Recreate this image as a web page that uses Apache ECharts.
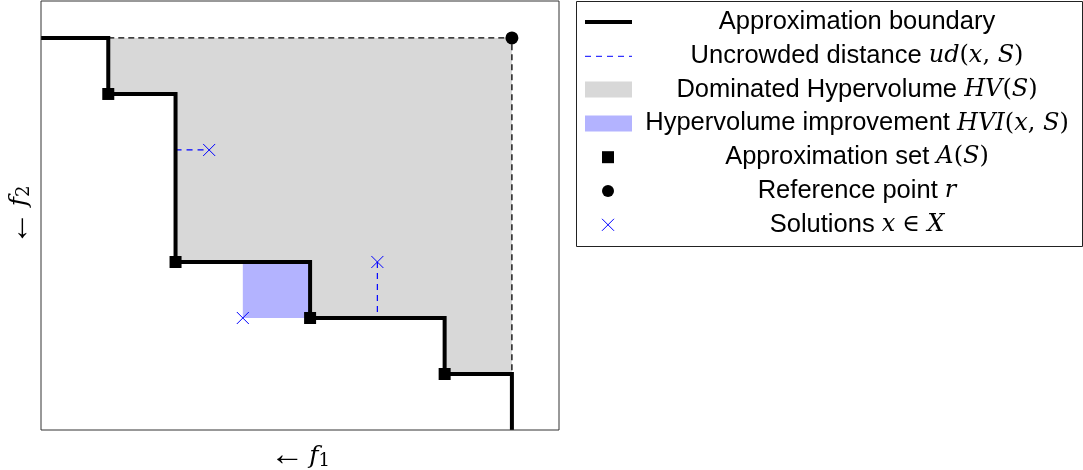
<!DOCTYPE html>
<html><head><meta charset="utf-8">
<script src="https://cdn.jsdelivr.net/npm/echarts@6/dist/echarts.min.js"></script>
<style>html,body{margin:0;padding:0;background:#fff}#c{width:1083px;height:470px}</style>
</head><body><div id="c"></div>
<script>
// ---- data (objective space units) ----
const boundary = [[0,7],[1,7],[1,6],[2,6],[2,3],[4,3],[4,2],[6,2],[6,1],[7,1],[7,0]];
const approxSet = [[1,6],[2,3],[4,2],[6,1]];
const refPoint = [[7,7]];
const solutions = [[2.5,5],[3,2],[5,3]];
const udSegment1 = [[2,5],[2.5,5]];
const udSegment2 = [[5,3],[5,2]];
const hvPolygon = [[1,7],[7,7],[7,1],[6,1],[6,2],[4,2],[4,3],[2,3],[2,6],[1,6]];
const hviRect = [[3,2],[4,2],[4,3],[3,3]];
const refLines = [[1,7],[7,7],[7,1]];
const xRange = [0, 7.7];
const yRange = [0, 7.66];
const legendLabels = [
  'Approximation boundary',
  'Uncrowded distance {m|ud}{p|(}{m|x}{p|, }{m|S}{p|)}',
  'Dominated Hypervolume {m|HV}{p|(}{m|S}{p|)}',
  'Hypervolume improvement {m|HVI}{p|(}{m|x}{p|, }{m|S}{p|)}',
  'Approximation set {m|A}{p|(}{m|S}{p|)}',
  'Reference point {m|r}',
  'Solutions {m|x} {p|∈} {m|X}'
];
const xName = '{a|←}{f|f}{s|1}';
const yName = '{a|←}{f|f}{s|2}';

// ---- styling ----
const SANS = '"Liberation Sans", Arial, sans-serif';
const MATH = '"DejaVu Serif", serif';
const GREY = '#d8d8d8';
const HVI = '#b3b3ff';
const BLUE = '#0000ff';

const chart = echarts.init(document.getElementById('c'), null, {renderer:'canvas'});

function polySeries(points, fill){
  return {
    type:'custom', silent:true, data:[[0,0]], z:1,
    renderItem:(params, api) => ({
      type:'polygon',
      shape:{points: points.map(p => api.coord(p))},
      style:{fill: fill}
    })
  };
}

const nameRich = {
  a:{fontFamily:'Liberation Serif', fontSize:34, color:'#000', lineHeight:28, verticalAlign:'middle', padding:[0,5,0,0]},
  f:{fontFamily:MATH, fontStyle:'italic', fontSize:25, color:'#000', lineHeight:28, verticalAlign:'middle'},
  s:{fontFamily:MATH, fontSize:18, color:'#000', lineHeight:16, verticalAlign:'bottom'}
};

// legend graphics
const LX = 608, LROW0 = 22, LPITCH = 33.8, TEXT_CX = 857;
const legendGraphics = [{
  type:'rect', shape:{x:576.5, y:1.5, width:506, height:245},
  style:{fill:'#fff', stroke:'#222', lineWidth:1}, z:10
}];
function rowY(i){ return LROW0 + i*LPITCH; }
legendGraphics.push({type:'line', shape:{x1:585, y1:rowY(0), x2:632, y2:rowY(0)}, style:{stroke:'#000', lineWidth:4}, z:11});
legendGraphics.push({type:'line', shape:{x1:585, y1:rowY(1)+0.5, x2:632, y2:rowY(1)+0.5}, style:{stroke:BLUE, lineWidth:1, lineDash:[6,5]}, z:11});
legendGraphics.push({type:'rect', shape:{x:585, y:rowY(2)-8, width:47, height:16}, style:{fill:GREY}, z:11});
legendGraphics.push({type:'rect', shape:{x:585, y:rowY(3)-8, width:47, height:16}, style:{fill:HVI}, z:11});
legendGraphics.push({type:'rect', shape:{x:LX-6, y:rowY(4)-6, width:12, height:12}, style:{fill:'#000'}, z:11});
legendGraphics.push({type:'circle', shape:{cx:LX, cy:rowY(5), r:6}, style:{fill:'#000'}, z:11});
legendGraphics.push({type:'line', shape:{x1:LX-6, y1:rowY(6)-6, x2:LX+6, y2:rowY(6)+6}, style:{stroke:BLUE, lineWidth:1}, z:11});
legendGraphics.push({type:'line', shape:{x1:LX-6, y1:rowY(6)+6, x2:LX+6, y2:rowY(6)-6}, style:{stroke:BLUE, lineWidth:1}, z:11});
legendLabels.forEach((lab, i) => {
  legendGraphics.push({
    type:'text', x:TEXT_CX, y:rowY(i), z:11,
    style:{
      text: lab, fill:'#000', fontFamily:SANS, fontSize:25.5,
      align:'center', verticalAlign:'middle',
      rich:{
        m:{fontFamily:MATH, fontStyle:'italic', fontSize:24, fill:'#000'},
        p:{fontFamily:MATH, fontSize:24, fill:'#000'}
      }
    }
  });
});

const udStyle = {color:BLUE, width:1.2, type:[6,5]};

chart.setOption({
  animation:false,
  backgroundColor:'#fff',
  grid:{left:41, top:1, width:518, height:429, containLabel:false, outerBoundsMode:'none',
    show:true, borderColor:'#333', borderWidth:1, backgroundColor:'transparent', z:5},
  xAxis:{type:'value', min:xRange[0], max:xRange[1],
    axisLine:{show:false}, axisTick:{show:false}, axisLabel:{show:false}, splitLine:{show:false},
    name:xName, nameLocation:'middle', nameGap:12, nameTextStyle:{rich:nameRich}},
  yAxis:{type:'value', min:yRange[0], max:yRange[1],
    axisLine:{show:false}, axisTick:{show:false}, axisLabel:{show:false}, splitLine:{show:false},
    name:yName, nameLocation:'middle', nameGap:8, nameRotate:90, nameTextStyle:{rich:nameRich}},
  graphic: legendGraphics,
  series:[
    polySeries(hvPolygon, GREY),
    polySeries(hviRect, HVI),
    {type:'line', data:refLines, symbol:'none', silent:true, z:3,
      lineStyle:{color:'#000', width:1.3, type:[6,4]}},
    {type:'line', data:udSegment1, symbol:'none', silent:true, z:3, lineStyle:udStyle},
    {type:'line', data:udSegment2, symbol:'none', silent:true, z:3, lineStyle:udStyle},
    {type:'line', data:boundary, symbol:'none', silent:true, z:4,
      lineStyle:{color:'#000', width:4, join:'miter', cap:'butt'}},
    {type:'scatter', data:approxSet, symbol:'rect', symbolSize:12, silent:true, z:6,
      itemStyle:{color:'#000', opacity:1}},
    {type:'scatter', data:refPoint, symbol:'circle', symbolSize:13, silent:true, z:6,
      itemStyle:{color:'#000', opacity:1}},
    {type:'custom', data:solutions, silent:true, z:6,
      renderItem:(params, api) => {
        const c = api.coord([api.value(0), api.value(1)]);
        const h = 6;
        return {type:'group', children:[
          {type:'line', shape:{x1:c[0]-h, y1:c[1]-h, x2:c[0]+h, y2:c[1]+h}, style:{stroke:BLUE, lineWidth:1}},
          {type:'line', shape:{x1:c[0]-h, y1:c[1]+h, x2:c[0]+h, y2:c[1]-h}, style:{stroke:BLUE, lineWidth:1}}
        ]};
      }}
  ]
});
</script></body></html>
